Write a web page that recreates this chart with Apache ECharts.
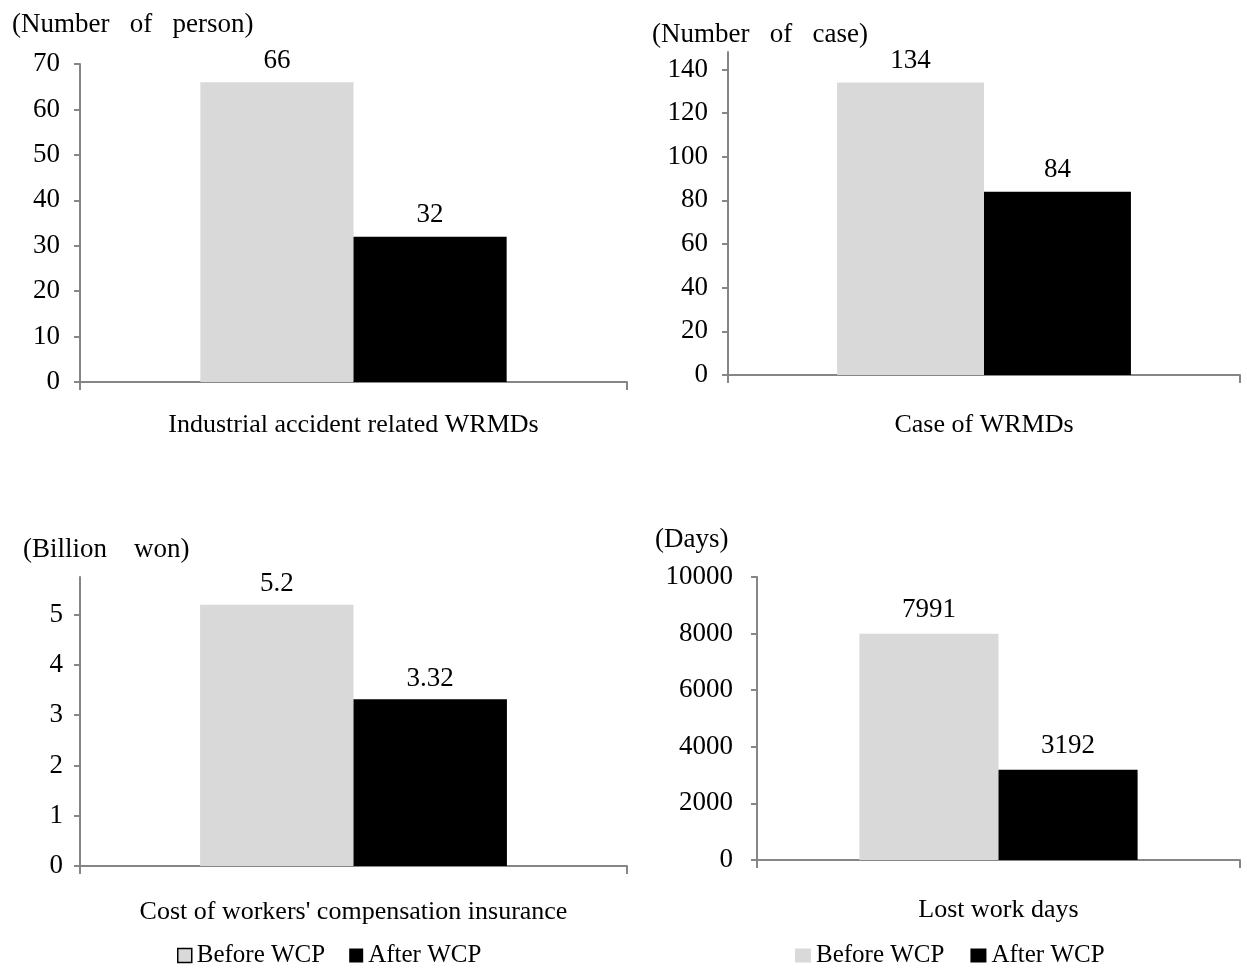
<!DOCTYPE html>
<html>
<head>
<meta charset="utf-8">
<script src="https://cdn.jsdelivr.net/npm/echarts@6/dist/echarts.min.js"></script>
<style>html,body{margin:0;padding:0;background:#fff}#c{width:1247px;height:968px}</style>
</head>
<body>
<div id="c"></div>
<script>
const categories = ['Industrial accident related WRMDs', 'Case of WRMDs', "Cost of workers' compensation insurance", 'Lost work days'];
const seriesNames = ['Before WCP', 'After WCP'];
const beforeWCP = [66, 134, 5.2, 7991];
const afterWCP = [32, 84, 3.32, 3192];
const unitLabels = ['(Number   of   person)', '(Number   of   case)', '(Billion    won)', '(Days)'];
const yTicks = [
  [0, 10, 20, 30, 40, 50, 60, 70],
  [0, 20, 40, 60, 80, 100, 120, 140],
  [0, 1, 2, 3, 4, 5],
  [0, 2000, 4000, 6000, 8000, 10000]
];
const yMax = [70, 148, 5.75, 10000];

const FONT = '"Liberation Serif", "Times New Roman", serif';
const AXIS = '#868686';
const colors = ['#d9d9d9', '#000000'];

const grids = [
  {left: 80, top: 64, width: 547, height: 318},
  {left: 728, top: 52, width: 512, height: 323},
  {left: 80, top: 577, width: 547, height: 289},
  {left: 757, top: 577, width: 483, height: 283}
];
const catGap = ['44%', '42.6%', '43.9%', '42.4%'];
const catMargin = [30, 37, 33, 37];
const yMargin = [20, 20, 17, 24];
const labelDist = [8, 8, 7, 10];
const titlePos = [[7, 6], [647, 16], [18, 531], [650, 521]];

const xAxes = [], yAxes = [], series = [], titles = [];
for (let i = 0; i < 4; i++) {
  xAxes.push({
    type: 'category', gridIndex: i, data: [categories[i]],
    axisLine: {lineStyle: {color: AXIS, width: 2}},
    axisTick: {show: true, length: 8, lineStyle: {color: AXIS, width: 2}},
    axisLabel: {fontFamily: FONT, fontSize: 26, color: '#000', margin: catMargin[i], interval: 0}
  });
  yAxes.push({
    type: 'value', gridIndex: i, min: 0, max: yMax[i],
    splitLine: {show: false},
    axisLine: {show: true, lineStyle: {color: AXIS, width: 2}},
    axisTick: {show: true, length: 6, lineStyle: {color: AXIS, width: 2}, customValues: yTicks[i]},
    axisLabel: {fontFamily: FONT, fontSize: 27, color: '#000', margin: yMargin[i], customValues: yTicks[i],
      formatter: function (v) { return String(v); }}
  });
  const vals = [beforeWCP[i], afterWCP[i]];
  for (let s = 0; s < 2; s++) {
    series.push({
      type: 'bar', name: seriesNames[s], xAxisIndex: i, yAxisIndex: i,
      data: [vals[s]], barGap: '0%', barCategoryGap: catGap[i],
      itemStyle: {color: colors[s]},
      label: {show: true, position: 'top', distance: labelDist[i], fontFamily: FONT, fontSize: 27, color: '#000'},
      silent: true
    });
  }
  titles.push({text: unitLabels[i], left: titlePos[i][0], top: titlePos[i][1],
    textStyle: {fontFamily: FONT, fontSize: 27, fontWeight: 'normal', color: '#000'}});
}

const legendText = {fontFamily: FONT, fontSize: 25, color: '#000'};
const option = {
  animation: false,
  title: titles,
  grid: grids,
  xAxis: xAxes,
  yAxis: yAxes,
  legend: [
    {left: 172, top: 938, itemWidth: 14, itemHeight: 14, itemGap: 24, icon: 'rect', textStyle: legendText,
      data: [{name: seriesNames[0], itemStyle: {borderColor: '#000', borderWidth: 1.5}}, {name: seriesNames[1]}]},
    {left: 790, top: 938, itemWidth: 16, itemHeight: 14, itemGap: 26, icon: 'rect', textStyle: legendText,
      data: [{name: seriesNames[0]}, {name: seriesNames[1]}]}
  ],
  series: series
};
const chart = echarts.init(document.getElementById('c'));
chart.setOption(option);
</script>
</body>
</html>
